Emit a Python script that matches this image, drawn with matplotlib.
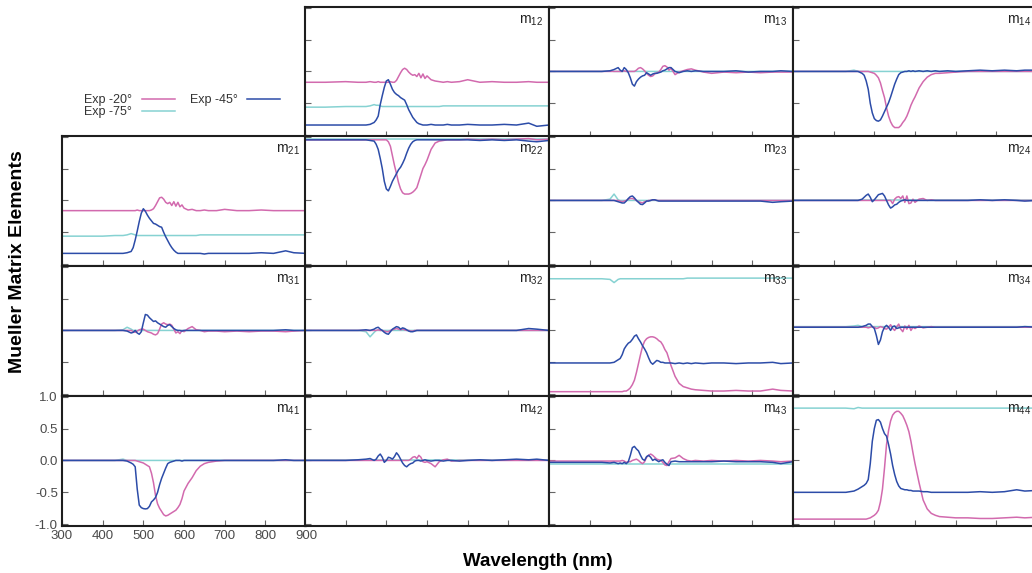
import matplotlib.pyplot as plt

plt.rcParams['font.family'] = ['Liberation Sans', 'DejaVu Sans']

# wavelength grid (nm), shared by every element
wl = [300, 350, 400, 430, 450, 460, 470, 475, 480, 485, 490, 495,
      500, 505, 510, 515, 520, 525, 530, 535, 540, 545, 550, 555,
      560, 565, 570, 575, 580, 585, 590, 595, 600, 610, 620, 630,
      640, 650, 660, 680, 700, 730, 760, 790, 820, 850, 870, 900]

series_labels = ['Exp -20°', 'Exp -45°', 'Exp -75°']

# ---- row 1 ----
m12_20 = [-0.17, -0.17, -0.16, -0.17, -0.17, -0.16, -0.17, -0.17, -0.16, -0.17, -0.17, -0.17,
          -0.17, -0.17, -0.16, -0.17, -0.17, -0.14, -0.08, -0.02, 0.03, 0.05, 0.03, -0.01,
          -0.04, -0.06, -0.05, -0.08, -0.03, -0.10, -0.04, -0.11, -0.07, -0.13, -0.15, -0.16,
          -0.17, -0.16, -0.17, -0.16, -0.13, -0.17, -0.16, -0.17, -0.17, -0.16, -0.17, -0.17]
m12_45 = [-0.84, -0.84, -0.84, -0.84, -0.84, -0.83, -0.80, -0.76, -0.70, -0.52, -0.38, -0.25,
          -0.15, -0.13, -0.20, -0.28, -0.33, -0.36, -0.38, -0.41, -0.43, -0.45, -0.52, -0.60,
          -0.66, -0.72, -0.76, -0.80, -0.82, -0.83, -0.84, -0.84, -0.84, -0.83, -0.84, -0.84,
          -0.84, -0.83, -0.84, -0.84, -0.83, -0.84, -0.84, -0.83, -0.84, -0.81, -0.86, -0.84]
m12_75 = [-0.56, -0.56, -0.55, -0.55, -0.55, -0.54, -0.52, -0.53, -0.53, -0.54, -0.55, -0.55,
          -0.55, -0.55, -0.55, -0.55, -0.55, -0.55, -0.55, -0.55, -0.55, -0.55, -0.55, -0.55,
          -0.55, -0.55, -0.55, -0.55, -0.55, -0.55, -0.55, -0.55, -0.55, -0.55, -0.55, -0.55,
          -0.54, -0.54, -0.54, -0.54, -0.54, -0.54, -0.54, -0.54, -0.54, -0.54, -0.54, -0.54]

m13_20 = [0.0, 0.0, 0.0, 0.0, 0.0, 0.0, 0.0, 0.0, 0.0, 0.01, 0.0, 0.0,
          0.0, 0.0, 0.0, 0.02, 0.05, 0.06, 0.04, 0.01, -0.03, -0.06, -0.08, -0.07,
          -0.04, -0.02, -0.01, 0.03, 0.08, 0.09, 0.07, 0.02, 0.05, -0.05, -0.01, 0.01,
          0.03, 0.04, 0.02, -0.01, -0.03, -0.01, -0.02, -0.01, -0.02, -0.01, -0.01, -0.01]
m13_45 = [0.0, 0.0, 0.0, 0.0, 0.01, 0.03, 0.06, 0.02, 0.0, 0.06, 0.03, -0.02,
          -0.10, -0.20, -0.23, -0.16, -0.12, -0.09, -0.07, -0.06, -0.02, -0.04, -0.06, -0.04,
          -0.03, -0.03, -0.02, -0.01, 0.01, 0.02, 0.04, 0.06, 0.06, 0.0, -0.02, 0.0,
          0.01, 0.0, 0.01, 0.0, 0.0, 0.0, 0.01, -0.01, 0.0, 0.0, 0.01, 0.0]
m13_75 = [0.0, 0.0, 0.0, 0.0, 0.01, 0.0, 0.0, 0.0, 0.0, 0.0, 0.0, 0.0,
          0.0, 0.0, 0.0, 0.0, 0.0, 0.0, 0.0, 0.0, 0.0, 0.0, 0.0, 0.0,
          0.0, 0.0, 0.0, 0.0, 0.0, 0.0, 0.0, 0.0, 0.0, 0.0, 0.0, 0.0,
          0.0, 0.0, 0.0, 0.0, 0.0, 0.0, 0.0, 0.0, 0.0, 0.0, 0.0, 0.0]

m14_20 = [0.0, 0.0, 0.0, 0.0, 0.0, 0.0, 0.0, 0.0, 0.0, 0.0, -0.01, -0.02,
          -0.03, -0.06, -0.10, -0.18, -0.30, -0.41, -0.57, -0.70, -0.79, -0.85, -0.88, -0.88,
          -0.88, -0.85, -0.80, -0.76, -0.70, -0.62, -0.53, -0.46, -0.40, -0.26, -0.16, -0.09,
          -0.05, -0.03, -0.03, -0.02, -0.01, 0.0, 0.0, 0.0, 0.0, 0.0, 0.0, 0.0]
m14_45 = [0.0, 0.0, 0.0, 0.0, 0.0, 0.0, -0.03, -0.06, -0.15, -0.28, -0.50, -0.65,
          -0.74, -0.77, -0.78, -0.76, -0.70, -0.63, -0.56, -0.49, -0.40, -0.30, -0.20, -0.12,
          -0.05, -0.02, -0.01, 0.0, 0.0, 0.01, 0.0, 0.01, 0.0, 0.01, 0.0, 0.01,
          0.0, 0.01, 0.0, 0.01, 0.0, 0.01, 0.02, 0.01, 0.02, 0.01, 0.02, 0.02]
m14_75 = [0.0, 0.0, 0.0, 0.0, 0.02, 0.0, 0.0, 0.0, 0.0, 0.0, 0.0, 0.0,
          0.0, 0.0, 0.0, 0.0, 0.0, 0.0, 0.0, 0.0, 0.0, 0.0, 0.0, 0.0,
          0.0, 0.0, 0.0, 0.0, 0.0, 0.0, 0.0, 0.0, 0.0, 0.0, 0.0, 0.0,
          0.0, 0.0, 0.0, 0.0, 0.0, 0.0, 0.0, 0.0, 0.0, 0.0, 0.0, 0.0]

# ---- row 2 ----
m21_20 = [-0.16, -0.16, -0.16, -0.16, -0.16, -0.16, -0.16, -0.16, -0.16, -0.15, -0.16, -0.16,
          -0.16, -0.16, -0.16, -0.16, -0.15, -0.13, -0.08, -0.02, 0.04, 0.05, 0.02, -0.03,
          -0.05, -0.03, -0.08, -0.02, -0.09, -0.03, -0.10, -0.07, -0.12, -0.15, -0.14, -0.16,
          -0.16, -0.15, -0.16, -0.16, -0.14, -0.16, -0.16, -0.15, -0.16, -0.16, -0.16, -0.16]
m21_45 = [-0.83, -0.83, -0.83, -0.83, -0.83, -0.82, -0.80, -0.74, -0.62, -0.48, -0.33, -0.20,
          -0.13, -0.17, -0.23, -0.28, -0.32, -0.36, -0.37, -0.39, -0.41, -0.42, -0.50, -0.57,
          -0.63, -0.69, -0.74, -0.78, -0.81, -0.83, -0.83, -0.83, -0.83, -0.83, -0.83, -0.83,
          -0.83, -0.84, -0.83, -0.83, -0.83, -0.83, -0.83, -0.82, -0.83, -0.79, -0.82, -0.83]
m21_75 = [-0.56, -0.56, -0.56, -0.55, -0.55, -0.54, -0.52, -0.53, -0.54, -0.55, -0.55, -0.55,
          -0.55, -0.55, -0.55, -0.55, -0.55, -0.55, -0.55, -0.55, -0.55, -0.55, -0.55, -0.55,
          -0.55, -0.55, -0.55, -0.55, -0.55, -0.55, -0.55, -0.55, -0.55, -0.55, -0.55, -0.55,
          -0.54, -0.54, -0.54, -0.54, -0.54, -0.54, -0.54, -0.54, -0.54, -0.54, -0.54, -0.54]

m22_20 = [0.95, 0.95, 0.95, 0.95, 0.95, 0.95, 0.95, 0.95, 0.95, 0.95, 0.95, 0.95,
          0.95, 0.92, 0.85, 0.70, 0.55, 0.42, 0.28, 0.18, 0.12, 0.10, 0.10, 0.10,
          0.11, 0.13, 0.16, 0.20, 0.30, 0.40, 0.50, 0.56, 0.63, 0.80, 0.90, 0.93,
          0.94, 0.95, 0.95, 0.95, 0.96, 0.95, 0.96, 0.95, 0.96, 0.97, 0.95, 0.96]
m22_45 = [0.95, 0.95, 0.95, 0.95, 0.95, 0.94, 0.93, 0.88, 0.80, 0.66, 0.50, 0.30,
          0.18, 0.15, 0.22, 0.30, 0.36, 0.42, 0.48, 0.52, 0.58, 0.65, 0.74, 0.82,
          0.88, 0.92, 0.94, 0.95, 0.95, 0.95, 0.95, 0.95, 0.95, 0.95, 0.95, 0.95,
          0.95, 0.95, 0.95, 0.95, 0.95, 0.94, 0.95, 0.94, 0.95, 0.93, 0.92, 0.94]
m22_75 = [0.97, 0.97, 0.97, 0.97, 0.97, 0.97, 0.97, 0.97, 0.97, 0.97, 0.97, 0.97,
          0.97, 0.97, 0.97, 0.97, 0.97, 0.97, 0.97, 0.97, 0.97, 0.97, 0.97, 0.97,
          0.97, 0.97, 0.97, 0.97, 0.97, 0.97, 0.97, 0.97, 0.97, 0.97, 0.97, 0.97,
          0.97, 0.97, 0.97, 0.97, 0.97, 0.97, 0.97, 0.97, 0.97, 0.97, 0.97, 0.97]

m23_20 = [0.0, 0.0, 0.0, 0.0, 0.0, 0.0, 0.0, -0.01, -0.02, -0.01, 0.0, 0.02,
          0.03, 0.03, 0.02, 0.0, -0.02, -0.03, -0.04, -0.02, -0.01, 0.0, 0.0, 0.01,
          0.01, 0.0, 0.0, 0.0, 0.0, 0.0, 0.0, 0.0, 0.0, 0.0, 0.0, 0.0,
          0.0, 0.0, 0.0, 0.0, 0.0, 0.0, 0.0, 0.0, 0.0, 0.0, 0.0, 0.0]
m23_45 = [0.0, 0.0, 0.0, 0.0, 0.0, 0.0, -0.02, -0.03, -0.04, -0.04, -0.01, 0.03,
          0.06, 0.07, 0.04, 0.0, -0.03, -0.06, -0.065, -0.04, -0.01, -0.01, 0.0, 0.01,
          0.01, 0.0, -0.01, -0.01, -0.01, -0.01, -0.01, -0.01, -0.01, -0.01, -0.01, -0.01,
          -0.01, -0.01, -0.01, -0.01, -0.01, -0.01, -0.01, -0.01, -0.01, -0.03, -0.02, -0.01]
m23_75 = [0.0, 0.0, 0.0, 0.0, 0.02, 0.10, 0.01, 0.0, 0.0, 0.0, 0.0, 0.0,
          0.0, 0.0, 0.0, 0.0, 0.0, 0.0, 0.0, 0.0, 0.0, 0.0, 0.0, 0.0,
          0.0, 0.0, 0.0, 0.0, 0.0, 0.0, 0.0, 0.0, 0.0, 0.0, 0.0, 0.0,
          0.0, 0.0, 0.0, 0.0, 0.0, 0.0, 0.0, 0.0, 0.0, 0.0, 0.0, 0.0]

m24_20 = [0.0, 0.0, 0.0, 0.0, 0.0, 0.0, 0.0, 0.0, 0.0, 0.0, 0.0, 0.0,
          0.0, 0.0, 0.0, 0.0, 0.0, 0.0, 0.0, 0.0, 0.0, -0.05, 0.02, 0.05,
          0.06, 0.03, 0.07, -0.03, 0.07, -0.05, -0.04, 0.02, -0.03, 0.02, 0.03, 0.0,
          0.01, 0.0, 0.0, 0.0, 0.0, 0.0, 0.0, 0.0, 0.0, 0.0, 0.0, 0.0]
m24_45 = [0.0, 0.0, 0.0, 0.0, 0.0, 0.0, 0.02, 0.05, 0.08, 0.10, 0.05, -0.02,
          0.01, 0.05, 0.09, 0.10, 0.11, 0.07, 0.0, -0.07, -0.12, -0.10, -0.07, -0.06,
          -0.03, -0.01, 0.0, 0.01, 0.0, 0.0, 0.0, 0.0, 0.0, 0.0, 0.0, 0.0,
          0.0, 0.0, 0.0, 0.0, 0.0, 0.0, 0.01, 0.0, 0.01, 0.0, -0.01, 0.0]
m24_75 = [0.0, 0.0, 0.0, 0.0, 0.0, 0.0, 0.0, 0.0, 0.0, 0.0, 0.0, 0.0,
          0.0, 0.0, 0.0, 0.0, 0.0, 0.0, 0.0, 0.0, 0.0, 0.0, 0.0, 0.0,
          0.0, 0.0, 0.0, 0.0, 0.0, 0.0, 0.0, 0.0, 0.0, 0.0, 0.0, 0.0,
          0.0, 0.0, 0.0, 0.0, 0.0, 0.0, 0.0, 0.0, 0.0, 0.0, 0.0, 0.0]

# ---- row 3 ----
m31_20 = [0.0, 0.0, 0.0, 0.0, 0.0, 0.0, 0.0, -0.02, -0.03, -0.01, 0.01, 0.02,
          0.02, 0.0, -0.02, -0.03, -0.04, -0.06, -0.07, -0.05, 0.02, 0.10, 0.12, 0.10,
          0.09, 0.10, 0.08, 0.02, -0.04, -0.02, -0.05, 0.0, -0.02, 0.03, 0.06, 0.01,
          0.0, -0.02, -0.01, -0.01, -0.02, -0.01, -0.02, -0.01, -0.01, -0.02, -0.01, 0.0]
m31_45 = [0.0, 0.0, 0.0, 0.0, 0.0, -0.01, -0.04, -0.03, 0.0, -0.04, -0.06, -0.02,
          0.12, 0.25, 0.24, 0.20, 0.17, 0.14, 0.15, 0.12, 0.10, 0.08, 0.06, 0.05,
          0.08, 0.09, 0.06, 0.03, 0.01, 0.0, 0.0, -0.01, 0.0, 0.0, 0.0, 0.0,
          0.0, 0.0, 0.0, 0.0, 0.0, 0.0, 0.0, 0.0, 0.0, 0.01, 0.0, 0.0]
m31_75 = [0.0, 0.0, 0.0, 0.0, 0.01, 0.05, 0.02, 0.0, 0.0, 0.0, 0.0, 0.0,
          0.0, 0.0, 0.0, 0.0, 0.0, 0.0, 0.0, 0.0, 0.0, 0.0, 0.0, 0.0,
          0.0, 0.0, 0.0, 0.0, 0.0, 0.0, 0.0, 0.0, 0.0, 0.0, 0.0, 0.0,
          0.0, 0.0, 0.0, 0.0, 0.0, 0.0, 0.0, 0.0, 0.0, 0.0, 0.0, 0.0]

m32_20 = [0.0, 0.0, 0.0, 0.0, 0.0, 0.0, 0.0, 0.0, 0.01, 0.0, 0.0, -0.01,
          -0.02, -0.02, 0.0, 0.01, 0.02, 0.03, 0.02, 0.01, 0.02, 0.01, 0.0, 0.0,
          -0.01, -0.01, 0.0, 0.0, 0.0, 0.0, 0.0, 0.0, 0.0, 0.0, 0.0, 0.0,
          0.0, 0.0, 0.0, 0.0, 0.0, 0.0, 0.0, 0.0, 0.0, 0.0, 0.0, 0.0]
m32_45 = [0.0, 0.0, 0.0, 0.0, 0.01, 0.0, 0.02, 0.04, 0.05, 0.02, 0.0, -0.03,
          -0.05, -0.06, -0.02, 0.02, 0.04, 0.06, 0.05, 0.02, 0.04, 0.03, 0.01, -0.01,
          -0.02, -0.02, -0.01, 0.0, 0.0, 0.0, 0.0, 0.0, 0.0, 0.0, 0.0, 0.0,
          0.0, 0.0, 0.0, 0.0, 0.0, 0.0, 0.0, 0.0, 0.0, 0.03, 0.02, 0.0]
m32_75 = [0.0, 0.0, 0.0, 0.0, -0.02, -0.10, -0.03, 0.0, 0.0, 0.0, 0.0, 0.0,
          0.0, 0.0, 0.0, 0.0, 0.0, 0.0, 0.0, 0.0, 0.0, 0.0, 0.0, 0.0,
          0.0, 0.0, 0.0, 0.0, 0.0, 0.0, 0.0, 0.0, 0.0, 0.0, 0.0, 0.0,
          0.0, 0.0, 0.0, 0.0, 0.0, 0.0, 0.0, 0.0, 0.0, 0.0, 0.0, 0.0]

m33_20 = [-0.96, -0.96, -0.96, -0.96, -0.96, -0.96, -0.96, -0.96, -0.96, -0.95, -0.95, -0.93,
          -0.90, -0.85, -0.78, -0.66, -0.52, -0.38, -0.25, -0.17, -0.13, -0.11, -0.10, -0.10,
          -0.11, -0.13, -0.16, -0.18, -0.23, -0.30, -0.35, -0.45, -0.55, -0.72, -0.83, -0.88,
          -0.90, -0.92, -0.93, -0.94, -0.95, -0.95, -0.94, -0.95, -0.95, -0.92, -0.94, -0.95]
m33_45 = [-0.51, -0.51, -0.51, -0.51, -0.51, -0.50, -0.46, -0.44, -0.38, -0.29, -0.24, -0.20,
          -0.18, -0.14, -0.09, -0.07, -0.13, -0.18, -0.24, -0.29, -0.35, -0.43, -0.50, -0.53,
          -0.50, -0.47, -0.48, -0.50, -0.50, -0.51, -0.51, -0.51, -0.51, -0.52, -0.51, -0.52,
          -0.51, -0.52, -0.51, -0.52, -0.51, -0.51, -0.52, -0.51, -0.51, -0.50, -0.52, -0.51]
m33_75 = [0.81, 0.81, 0.81, 0.81, 0.80, 0.75, 0.80, 0.81, 0.81, 0.81, 0.81, 0.81,
          0.81, 0.81, 0.81, 0.81, 0.81, 0.81, 0.81, 0.81, 0.81, 0.81, 0.81, 0.81,
          0.81, 0.81, 0.81, 0.81, 0.81, 0.81, 0.81, 0.81, 0.81, 0.81, 0.81, 0.81,
          0.82, 0.82, 0.82, 0.82, 0.82, 0.82, 0.82, 0.82, 0.82, 0.82, 0.82, 0.82]

m34_20 = [0.05, 0.05, 0.05, 0.05, 0.05, 0.05, 0.05, 0.05, 0.05, 0.04, 0.05, 0.06,
          0.05, 0.03, 0.04, 0.06, 0.05, 0.03, 0.02, 0.05, 0.09, 0.03, 0.0, 0.06,
          0.10, 0.02, -0.02, 0.07, 0.02, 0.08, 0.0, 0.05, 0.03, 0.07, 0.04, 0.05,
          0.06, 0.05, 0.05, 0.05, 0.05, 0.05, 0.05, 0.05, 0.05, 0.05, 0.05, 0.05]
m34_45 = [0.05, 0.05, 0.05, 0.05, 0.05, 0.05, 0.06, 0.07, 0.08, 0.10, 0.10, 0.06,
          0.03, -0.08, -0.22, -0.15, -0.02, 0.05, 0.08, 0.05, 0.0, 0.06, 0.07, 0.03,
          0.04, 0.05, 0.05, 0.05, 0.05, 0.05, 0.05, 0.05, 0.05, 0.05, 0.05, 0.05,
          0.05, 0.05, 0.05, 0.05, 0.05, 0.05, 0.05, 0.05, 0.05, 0.05, 0.06, 0.05]
m34_75 = [0.06, 0.06, 0.06, 0.06, 0.07, 0.08, 0.06, 0.06, 0.06, 0.06, 0.06, 0.06,
          0.06, 0.06, 0.06, 0.06, 0.06, 0.06, 0.06, 0.06, 0.06, 0.06, 0.06, 0.06,
          0.06, 0.06, 0.06, 0.06, 0.06, 0.06, 0.06, 0.06, 0.06, 0.06, 0.06, 0.06,
          0.06, 0.06, 0.06, 0.06, 0.06, 0.06, 0.06, 0.06, 0.06, 0.06, 0.06, 0.06]

# ---- row 4 ----
m41_20 = [0.0, 0.0, 0.0, 0.0, 0.0, 0.0, 0.0, 0.0, 0.0, -0.01, -0.02, -0.03,
          -0.04, -0.06, -0.08, -0.10, -0.20, -0.35, -0.55, -0.68, -0.75, -0.80, -0.85, -0.87,
          -0.86, -0.84, -0.82, -0.80, -0.78, -0.74, -0.69, -0.60, -0.48, -0.36, -0.27, -0.16,
          -0.09, -0.05, -0.03, -0.01, 0.0, 0.0, 0.0, 0.0, 0.0, 0.0, 0.0, 0.0]
m41_45 = [0.0, 0.0, 0.0, 0.0, 0.0, -0.01, -0.04, -0.06, -0.10, -0.45, -0.70, -0.74,
          -0.755, -0.76, -0.755, -0.72, -0.65, -0.62, -0.58, -0.50, -0.38, -0.28, -0.20, -0.12,
          -0.05, -0.03, -0.02, -0.01, 0.0, 0.0, 0.0, -0.01, 0.0, 0.0, 0.0, 0.0,
          0.0, 0.0, 0.0, 0.0, 0.0, 0.0, 0.0, 0.0, 0.0, 0.01, 0.0, 0.0]
m41_75 = [0.0, 0.0, 0.0, 0.0, 0.02, 0.0, 0.0, 0.0, 0.0, 0.0, 0.0, 0.0,
          0.0, 0.0, 0.0, 0.0, 0.0, 0.0, 0.0, 0.0, 0.0, 0.0, 0.0, 0.0,
          0.0, 0.0, 0.0, 0.0, 0.0, 0.0, 0.0, 0.0, 0.0, 0.0, 0.0, 0.0,
          0.0, 0.0, 0.0, 0.0, 0.0, 0.0, 0.0, 0.0, 0.0, 0.0, 0.0, 0.0]

m42_20 = [0.0, 0.0, 0.0, 0.0, 0.0, 0.0, 0.0, 0.0, 0.0, 0.0, 0.0, 0.0,
          0.0, 0.0, 0.0, 0.0, 0.0, 0.0, 0.0, 0.0, 0.0, 0.0, 0.0, 0.0,
          0.02, 0.05, 0.06, 0.03, 0.08, 0.05, -0.02, -0.03, -0.02, -0.05, -0.10, -0.02,
          0.01, 0.02, -0.01, 0.0, 0.0, 0.0, 0.0, 0.0, 0.0, 0.0, 0.0, 0.0]
m42_45 = [0.0, 0.0, 0.0, 0.01, 0.02, 0.03, 0.0, 0.02, 0.07, 0.10, 0.05, -0.03,
          0.0, 0.05, 0.04, 0.02, 0.06, 0.12, 0.08, 0.02, -0.04, -0.08, -0.10, -0.07,
          -0.05, -0.04, -0.01, 0.0, 0.0, -0.01, 0.0, 0.01, 0.0, -0.01, 0.0, 0.0,
          -0.01, 0.0, 0.0, -0.01, 0.0, 0.01, 0.0, 0.01, 0.02, 0.01, 0.02, 0.0]
m42_75 = [0.0, 0.0, 0.0, 0.0, 0.0, 0.0, 0.0, 0.0, 0.0, 0.0, 0.0, 0.0,
          0.0, 0.0, 0.0, 0.0, 0.0, 0.0, 0.0, 0.0, 0.0, 0.0, 0.0, 0.0,
          0.0, 0.0, 0.0, 0.0, 0.0, 0.0, 0.0, 0.0, 0.0, 0.0, 0.0, 0.0,
          0.0, 0.0, 0.0, 0.0, 0.0, 0.0, 0.0, 0.0, 0.0, 0.0, 0.0, 0.0]

m43_20 = [-0.01, -0.01, -0.01, -0.01, -0.01, -0.01, -0.01, -0.01, 0.0, -0.01, -0.03, -0.02,
          -0.02, 0.0, 0.01, 0.02, 0.0, -0.03, -0.05, -0.02, 0.05, 0.08, 0.10, 0.08,
          0.05, 0.02, 0.01, 0.0, -0.03, -0.07, -0.08, -0.02, 0.03, 0.04, 0.08, 0.03,
          0.0, -0.01, 0.0, -0.01, 0.0, -0.01, 0.0, -0.01, 0.0, -0.01, -0.02, -0.01]
m43_45 = [-0.03, -0.03, -0.03, -0.03, -0.04, -0.03, -0.05, -0.04, -0.05, -0.03, -0.05, -0.02,
          0.08, 0.20, 0.22, 0.18, 0.15, 0.08, 0.02, 0.0, 0.06, 0.08, 0.05, 0.0,
          0.02, 0.0, -0.02, 0.0, 0.01, -0.03, -0.06, -0.08, -0.02, -0.01, -0.02, -0.02,
          -0.02, -0.02, -0.02, -0.02, -0.02, -0.01, -0.02, -0.02, -0.02, -0.03, -0.05, -0.02]
m43_75 = [-0.05, -0.05, -0.05, -0.05, -0.05, -0.05, -0.05, -0.05, -0.05, -0.05, -0.05, -0.05,
          -0.05, -0.05, -0.05, -0.05, -0.05, -0.05, -0.05, -0.05, -0.05, -0.05, -0.05, -0.05,
          -0.05, -0.05, -0.05, -0.05, -0.05, -0.05, -0.05, -0.05, -0.05, -0.05, -0.05, -0.05,
          -0.05, -0.05, -0.05, -0.05, -0.05, -0.05, -0.05, -0.05, -0.05, -0.05, -0.05, -0.05]

m44_20 = [-0.92, -0.92, -0.92, -0.92, -0.92, -0.92, -0.92, -0.92, -0.92, -0.91, -0.90, -0.88,
          -0.86, -0.83, -0.78, -0.65, -0.45, -0.12, 0.25, 0.47, 0.62, 0.71, 0.75, 0.77,
          0.77, 0.74, 0.70, 0.63, 0.55, 0.45, 0.30, 0.12, -0.05, -0.35, -0.62, -0.76,
          -0.83, -0.86, -0.88, -0.89, -0.90, -0.90, -0.91, -0.91, -0.90, -0.89, -0.90, -0.89]
m44_45 = [-0.50, -0.50, -0.50, -0.50, -0.48, -0.45, -0.41, -0.39, -0.36, -0.30, -0.05, 0.30,
          0.50, 0.63, 0.64, 0.60, 0.50, 0.42, 0.38, 0.25, 0.10, -0.08, -0.22, -0.33,
          -0.40, -0.44, -0.45, -0.46, -0.46, -0.47, -0.47, -0.48, -0.48, -0.48, -0.49, -0.49,
          -0.50, -0.50, -0.50, -0.50, -0.50, -0.50, -0.49, -0.50, -0.49, -0.46, -0.48, -0.47]
m44_75 = [0.82, 0.82, 0.82, 0.82, 0.81, 0.83, 0.82, 0.82, 0.82, 0.82, 0.82, 0.82,
          0.82, 0.82, 0.82, 0.82, 0.82, 0.82, 0.82, 0.82, 0.82, 0.82, 0.82, 0.82,
          0.82, 0.82, 0.82, 0.82, 0.82, 0.82, 0.82, 0.82, 0.82, 0.82, 0.82, 0.82,
          0.82, 0.82, 0.82, 0.82, 0.82, 0.82, 0.82, 0.82, 0.82, 0.82, 0.82, 0.82]

elements = {
    (0, 1): ('12', m12_20, m12_45, m12_75),
    (0, 2): ('13', m13_20, m13_45, m13_75),
    (0, 3): ('14', m14_20, m14_45, m14_75),
    (1, 0): ('21', m21_20, m21_45, m21_75),
    (1, 1): ('22', m22_20, m22_45, m22_75),
    (1, 2): ('23', m23_20, m23_45, m23_75),
    (1, 3): ('24', m24_20, m24_45, m24_75),
    (2, 0): ('31', m31_20, m31_45, m31_75),
    (2, 1): ('32', m32_20, m32_45, m32_75),
    (2, 2): ('33', m33_20, m33_45, m33_75),
    (2, 3): ('34', m34_20, m34_45, m34_75),
    (3, 0): ('41', m41_20, m41_45, m41_75),
    (3, 1): ('42', m42_20, m42_45, m42_75),
    (3, 2): ('43', m43_20, m43_45, m43_75),
    (3, 3): ('44', m44_20, m44_45, m44_75),
}

c20 = '#d26aae'
c45 = '#2c4ca8'
c75 = '#86d2d2'

W, H = 1032, 573
col_x = [62, 305, 549, 793]
row_y = [7, 136, 266, 396]
pw, ph = 244, 129.5

fig = plt.figure(figsize=(W / 100, H / 100), dpi=100)

handles = None
for (r, c), (name, y20, y45, y75) in elements.items():
    ax = fig.add_axes([col_x[c] / W, 1 - (row_y[r] + ph) / H, pw / W, ph / H])
    l75, = ax.plot(wl, y75, color=c75, lw=1.1)
    l20, = ax.plot(wl, y20, color=c20, lw=1.1)
    l45, = ax.plot(wl, y45, color=c45, lw=1.1)
    if handles is None:
        handles = [l20, l75, l45]
    ax.set_xlim(300, 900)
    ax.set_ylim(-1.02, 1.01)
    ax.set_xticks([300, 400, 500, 600, 700, 800, 900])
    ax.set_yticks([-1.0, -0.5, 0.0, 0.5, 1.0])
    ax.tick_params(direction='in', length=4, width=0.8, color='#666666',
                   labelsize=9.5, labelcolor='#4a4a4a', pad=3)
    for s in ax.spines.values():
        s.set_linewidth(1.5)
        s.set_color('#1e1e1e')
    if (r, c) == (3, 0):
        ax.set_yticklabels(['-1.0', '-0.5', '0.0', '0.5', '1.0'])
    else:
        ax.tick_params(labelleft=False, labelbottom=False)
    ax.text(0.975, 0.95, r'm$_{\mathregular{' + name + '}}$', transform=ax.transAxes,
            ha='right', va='top', fontsize=10, color='#222222')

# legend sits in the empty m11 slot; first column -20/-75, second -45
fig.legend(handles, [series_labels[0], series_labels[2], series_labels[1]],
           ncol=2, markerfirst=False, frameon=False, loc='upper left',
           bbox_to_anchor=(84 / W, 1 - 94 / H), fontsize=9, labelcolor='#333333',
           handlelength=2.6, handletextpad=0.8, columnspacing=1.2,
           labelspacing=0.0, borderpad=0, borderaxespad=0)

fig.text(18 / W, 1 - 262 / H, 'Mueller Matrix Elements', rotation=90,
         ha='center', va='center', fontsize=14, fontweight='bold')
fig.text(538 / W, 1 - 561 / H, 'Wavelength (nm)', ha='center', va='center',
         fontsize=13.5, fontweight='bold')

fig.savefig('out.png', dpi=100)
